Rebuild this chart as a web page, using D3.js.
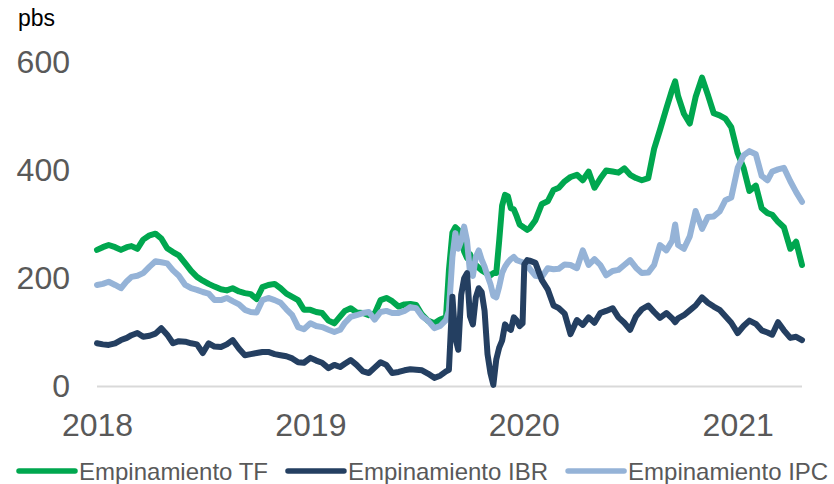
<!DOCTYPE html>
<html>
<head>
<meta charset="utf-8">
<script src="https://cdn.jsdelivr.net/npm/d3@7"></script>
<style>
  body { margin: 0; background: #fff; }
  text { font-family: "Liberation Sans", Arial, sans-serif; }
</style>
</head>
<body>
<div id="chart"></div>
<script>
var dates = [
    "2018-01-01","2018-01-11","2018-01-21","2018-02-01","2018-02-11","2018-02-21",
    "2018-03-01","2018-03-11","2018-03-21","2018-04-01","2018-04-11","2018-04-21",
    "2018-05-01","2018-05-11","2018-05-21","2018-06-01","2018-06-11","2018-06-21",
    "2018-07-01","2018-07-11","2018-07-21","2018-08-01","2018-08-11","2018-08-21",
    "2018-09-01","2018-09-11","2018-09-21","2018-10-01","2018-10-11","2018-10-21",
    "2018-11-01","2018-11-11","2018-11-21","2018-12-01","2018-12-11","2018-12-21",
    "2019-01-01","2019-01-11","2019-01-21","2019-02-01","2019-02-11","2019-02-21",
    "2019-03-01","2019-03-11","2019-03-21","2019-04-01","2019-04-11","2019-04-21",
    "2019-05-01","2019-05-11","2019-05-21","2019-06-01","2019-06-11","2019-06-21",
    "2019-07-01","2019-07-11","2019-07-21","2019-08-01","2019-08-11","2019-08-21",
    "2019-08-26","2019-09-01","2019-09-06","2019-09-11","2019-09-16","2019-09-21",
    "2019-09-26","2019-10-01","2019-10-06","2019-10-11","2019-10-16","2019-10-21",
    "2019-10-26","2019-10-31","2019-11-05","2019-11-10","2019-11-15","2019-11-20",
    "2019-11-25","2019-11-30","2019-12-05","2019-12-10","2019-12-15","2019-12-20",
    "2019-12-25","2019-12-30","2020-01-02","2020-01-07","2020-01-11","2020-01-21",
    "2020-02-01","2020-02-11","2020-02-21","2020-03-01","2020-03-11","2020-03-21",
    "2020-04-01","2020-04-11","2020-04-21","2020-05-01","2020-05-11","2020-05-21",
    "2020-06-01","2020-06-11","2020-06-21","2020-07-01","2020-07-11","2020-07-21",
    "2020-08-01","2020-08-11","2020-08-21","2020-09-01","2020-09-11","2020-09-16",
    "2020-09-21","2020-10-01","2020-10-11","2020-10-21","2020-11-01","2020-11-11",
    "2020-11-21","2020-12-01","2020-12-11","2020-12-21","2021-01-01","2021-01-11",
    "2021-01-21","2021-02-01","2021-02-11","2021-02-21","2021-03-01","2021-03-11",
    "2021-03-21","2021-04-01","2021-04-11","2021-04-21"
];

var tf = [
    253,258,262,258,253,258, 260,255,272,280,283,274, 256,249,243,228,214,203,
    196,190,185,180,178,182, 176,173,171,162,184,188, 190,182,172,166,160,142,
    142,138,136,122,117,130, 140,145,137,136,132,135, 160,164,158,148,152,153,
    151,133,122,117,124,128, 215,285,295,290,272,250, 238,245,232,225,220,215,
    212,208,206,210,210,270, 335,355,352,330,328,315, 300,296,294,290,293,308,
    338,343,364,368,380,388, 392,382,398,368,385,400, 398,396,404,392,386,382,
    386,440,475,515,550,565, 538,505,487,536,572,540, 506,502,496,480,432,405,
    362,372,330,321,318,305, 295,255,268,225
];

var ibr = [
    80,78,77,80,86,90, 95,99,92,94,98,108, 96,80,84,83,80,78,
    62,80,74,73,78,86, 70,58,60,62,64,64, 60,58,56,52,45,44,
    53,48,44,34,40,36, 42,49,40,28,25,35, 45,40,25,27,30,32,
    31,30,24,16,20,28, 31,166,90,68,170,200, 210,130,115,165,182,175,
    140,60,25,3,50,72, 85,115,108,105,128,122, 112,117,226,234,233,229,
    197,180,150,145,135,97, 123,114,128,118,136,140, 145,128,118,105,130,143,
    150,138,127,136,126,119, 126,132,141,150,165,155, 148,142,130,118,99,112,
    122,116,104,100,96,119, 104,90,92,86
];

var ipc = [
    188,190,194,188,182,195, 203,205,210,222,232,230, 228,215,205,188,182,179,
    175,172,160,160,164,158, 152,142,138,137,160,164, 160,155,143,132,110,106,
    117,112,110,105,101,105, 118,129,132,136,138,124, 138,140,136,136,140,147,
    145,130,122,108,112,123, 140,240,284,255,270,296, 270,212,205,240,252,235,
    222,205,190,168,165,185, 210,222,230,236,240,234, 232,230,228,225,218,205,
    203,219,217,218,226,225, 219,252,225,236,225,206, 214,216,225,234,220,210,
    211,225,262,252,270,300, 262,255,278,325,292,314, 315,324,345,350,405,428,
    436,430,390,382,398,402, 405,380,360,342
];

var seriesNames = ["Empinamiento TF", "Empinamiento IBR", "Empinamiento IPC"];
var seriesColors = ["#00A74F", "#243F61", "#95B3D7"];
var yTicks = [0, 200, 400, 600];
var xTicks = ["2018-01-01", "2019-01-01", "2020-01-01", "2021-01-01"];

function drawChart() {
    var width = 834, height = 484;
    var parse = d3.timeParse("%Y-%m-%d");
    var font = "'Liberation Sans', Arial, sans-serif";

    var svg = d3.select("#chart")
	.append("svg")
	.attr("width", width)
	.attr("height", height);

    var x = d3.scaleTime()
	.domain([parse(dates[0]), parse(dates[dates.length - 1])])
	.range([97, 802]);
    var y = d3.scaleLinear()
	.domain([0, 600])
	.range([386.5, 62.5]);

    // unit label
    svg.append("text")
	.attr("x", 18).attr("y", 26)
	.attr("font-size", 23)
	.attr("fill", "#000")
	.text("pbs");

    // y axis labels
    var yAxis = svg.append("g")
	.attr("transform", "translate(70,0)")
	.call(d3.axisLeft(y).tickValues(yTicks).tickSize(0).tickPadding(0));
    yAxis.select(".domain").remove();
    yAxis.selectAll("text")
	.attr("font-family", font)
	.attr("font-size", 32)
	.attr("fill", "#595959")
	.attr("dy", "0.3em");

    // x axis labels
    var xAxis = svg.append("g")
	.attr("transform", "translate(0," + y(0) + ")")
	.call(d3.axisBottom(x).tickValues(xTicks.map(parse))
	      .tickFormat(d3.timeFormat("%Y")).tickSize(0).tickPadding(27));
    xAxis.select(".domain").remove();
    xAxis.selectAll("text")
	.attr("font-family", font)
	.attr("font-size", 32)
	.attr("fill", "#595959");

    // zero line
    svg.append("line")
	.attr("x1", x.range()[0]).attr("x2", x.range()[1])
	.attr("y1", y(0)).attr("y2", y(0))
	.attr("stroke", "#D9D9D9")
	.attr("stroke-width", 2);

    var series = [tf, ibr, ipc];
    var line = d3.line()
	.x(function(d, i) { return x(parse(dates[i])); })
	.y(function(d) { return y(d); });

    // TF at the bottom, IBR on top
    [0, 2, 1].forEach(function(k) {
	svg.append("path")
	    .datum(series[k])
	    .attr("fill", "none")
	    .attr("stroke", seriesColors[k])
	    .attr("stroke-width", 6)
	    .attr("stroke-linejoin", "round")
	    .attr("stroke-linecap", "round")
	    .attr("d", line);
    });

    // legend
    var lx = 19, ly = 471;
    seriesNames.forEach(function(name, k) {
	svg.append("line")
	    .attr("x1", lx).attr("x2", lx + 56)
	    .attr("y1", ly).attr("y2", ly)
	    .attr("stroke", seriesColors[k])
	    .attr("stroke-width", 5.5)
	    .attr("stroke-linecap", "round");
	var t = svg.append("text")
	    .attr("x", lx + 60).attr("y", ly + 8.5)
	    .attr("font-size", 24)
	    .attr("fill", "#595959")
	    .text(name);
	lx += 60 + t.node().getComputedTextLength() + 20;
    });
}

drawChart();
</script>
</body>
</html>
